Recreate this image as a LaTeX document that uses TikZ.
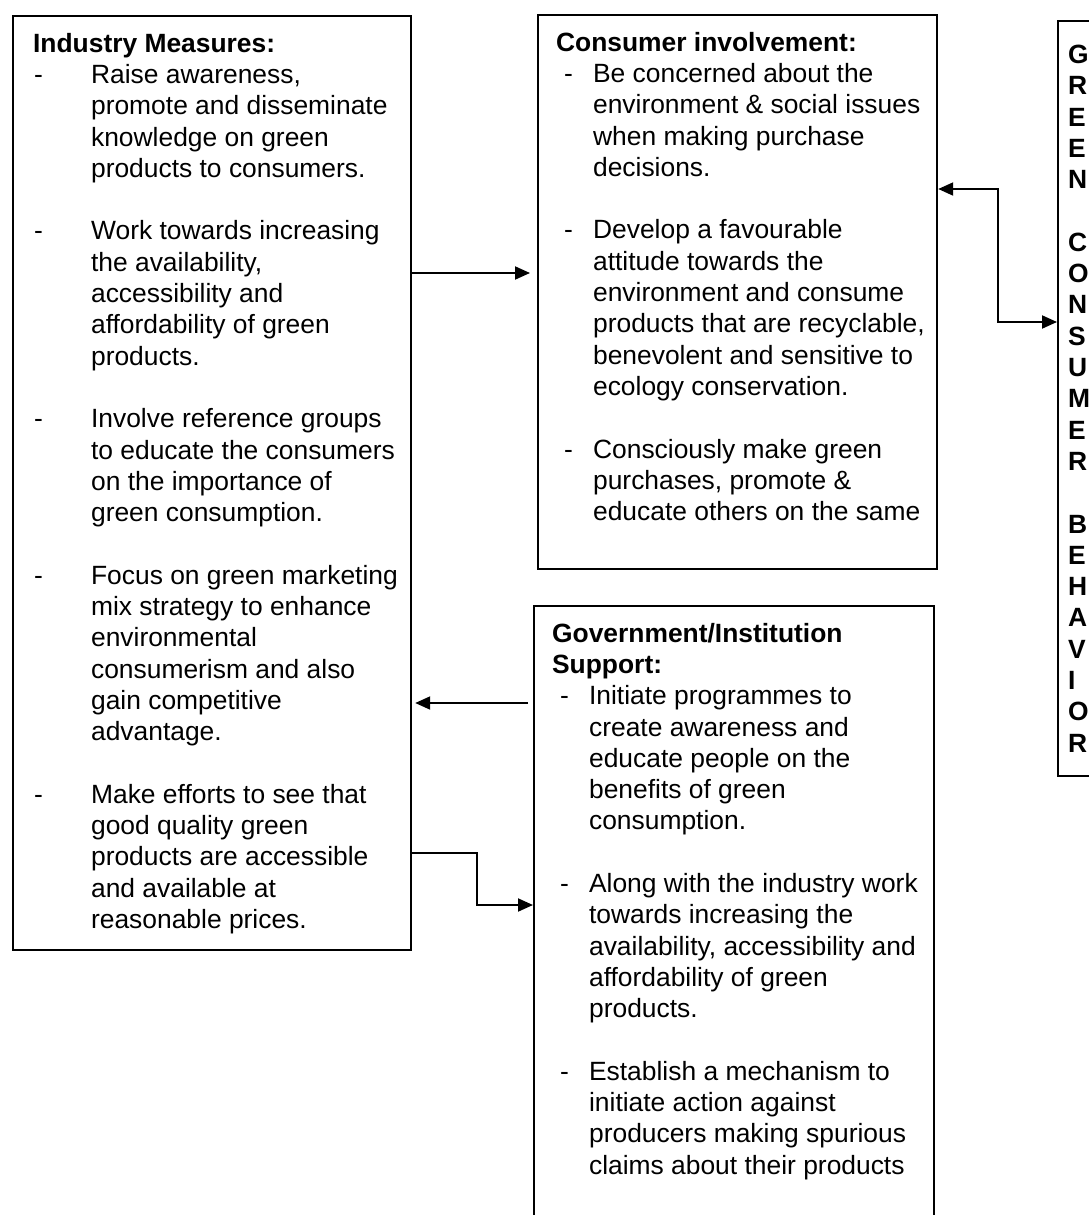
\documentclass[tikz,border=0pt]{standalone}
\usepackage{fontspec}
\setmainfont{Liberation Sans}
\usetikzlibrary{arrows.meta}
\usetikzlibrary{calc}

\newcommand{\dashitem}[3]{\par\noindent\hangindent=#2\hangafter=1\makebox[#2][l]{\hspace{#1}-}#3}
\newcommand{\lefti}[1]{\dashitem{0.5pt}{29pt}{#1}}
\newcommand{\righti}[1]{\dashitem{4pt}{18.5pt}{#1}}
\newcommand{\itemgap}{\par\vspace{15.65pt}}

\begin{document}
\begin{tikzpicture}
    [x=0.5pt, y=-0.5pt,
    panel/.style={draw, line width=1.1pt, inner xsep=0pt, inner ysep=8pt, anchor=north west,
        font=\fontsize{13.2}{15.65}\selectfont},
    sidebox/.style={draw, line width=1.1pt, inner xsep=5pt, anchor=north west, align=left,
        text width=25pt, minimum height=377.5pt, font=\fontsize{13.2}{15.65}\selectfont\bfseries},
    arr/.style={line width=1pt, -{Triangle[length=7.5pt,width=6.5pt]}},
    twoarr/.style={line width=1pt, {Triangle[length=7.5pt,width=6.5pt]}-{Triangle[length=7.5pt,width=6.5pt]}}]

    \useasboundingbox (0,0) rectangle (1088,1215);

    % industry
    \node[panel] (ind) at (12,15) {\parbox[c][451pt][t]{199pt}{\leftskip=10pt\rightskip=0pt plus 1fil
        \rule{0pt}{10pt}\textbf{Industry Measures:}
        \lefti{Raise awareness,\\ promote and disseminate\\ knowledge on green\\ products to consumers.}
        \itemgap
        \lefti{Work towards increasing\\ the availability,\\ accessibility and\\ affordability of green\\ products.}
        \itemgap
        \lefti{Involve reference groups\\ to educate the consumers\\ on the importance of\\ green consumption.}
        \itemgap
        \lefti{Focus on green marketing\\ mix strategy to enhance\\ environmental\\ consumerism and also\\ gain competitive\\ advantage.}
        \itemgap
        \lefti{Make efforts to see that\\ good quality green\\ products are accessible\\ and available at\\ reasonable prices.}}};

    % consumer
    \node[panel] (con) at (537,14) {\parbox[c][261pt][t]{199.5pt}{\leftskip=9pt\rightskip=0pt plus 1fil
        \rule{0pt}{10pt}\textbf{Consumer involvement:}
        \righti{Be concerned about the\\ environment \& social issues\\ when making purchase\\ decisions.}
        \itemgap
        \righti{Develop a favourable\\ attitude towards the\\ environment and consume\\ products that are recyclable,\\ benevolent and sensitive to\\ ecology conservation.}
        \itemgap
        \righti{Consciously make green\\ purchases, promote \&\\ educate others on the same}}};

    % government
    \node[panel] (gov) at (533,605) {\parbox[c][301.5pt][t]{200pt}{\leftskip=9pt\rightskip=0pt plus 1fil
        \rule{0pt}{10pt}\textbf{Government/Institution}\\ \textbf{Support:}
        \righti{Initiate programmes to\\ create awareness and\\ educate people on the\\ benefits of green\\ consumption.}
        \itemgap
        \righti{Along with the industry work\\ towards increasing the\\ availability, accessibility and\\ affordability of green\\ products.}
        \itemgap
        \righti{Establish a mechanism to\\ initiate action against\\ producers making spurious\\ claims about their products}}};

    % behaviour
    \node[sidebox] (beh) at (1057,20) {G\\R\\E\\E\\N\\[15.65pt]C\\O\\N\\S\\U\\M\\E\\R\\[15.65pt]B\\E\\H\\A\\V\\I\\O\\R};

    \draw[arr, shorten >=3.5pt] (ind.east |- 0,273) -- (con.west |- 0,273);
    \draw[arr, shorten <=2.5pt, shorten >=1.5pt] (gov.west |- 0,703) -- (ind.east |- 0,703);
    \draw[arr] (ind.east |- 0,853) -- ++(65,0) |- (gov.west |- 0,905);
    \draw[twoarr] (con.east |- 0,189) -- ++(60,0) |- (beh.west |- 0,322);
\end{tikzpicture}
\end{document}
